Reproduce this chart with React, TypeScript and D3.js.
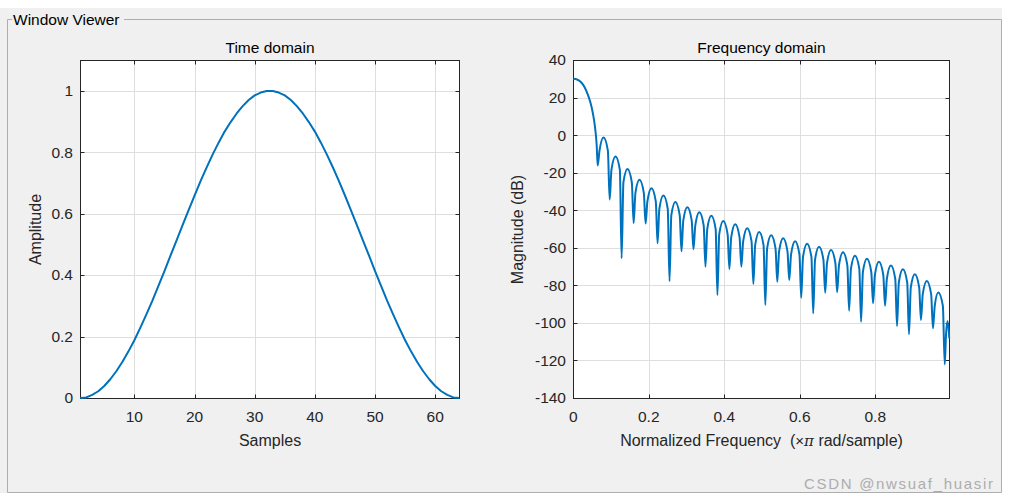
import React from 'react';
import * as d3 from 'd3';

// ---- Data ----
const timeValues: number[] = [
  0, 0.002, 0.010, 0.022, 0.039, 0.061, 0.087, 0.117, 0.151, 0.188, 0.229, 0.272, 0.317, 0.365, 0.413, 0.463,
  0.512, 0.562, 0.611, 0.659, 0.706, 0.750, 0.792, 0.831, 0.867, 0.898, 0.926, 0.950, 0.970, 0.985, 0.994, 0.999,
  0.999, 0.994, 0.985, 0.970, 0.950, 0.926, 0.898, 0.867, 0.831, 0.792, 0.750, 0.706, 0.659, 0.611, 0.562, 0.512,
  0.463, 0.413, 0.365, 0.317, 0.272, 0.229, 0.188, 0.151, 0.117, 0.087, 0.061, 0.039, 0.022, 0.010, 0.002, 0,
];

const freqResponse: [number, number][] = [
  [0.0000, 30.0], [0.0100, 29.6], [0.0200, 28.3], [0.0300, 25.5], [0.0380, 21.8], [0.0450, 17.6],
  [0.0520, 11.5], [0.0580, 3.5], [0.0620, -5.5],
  [0.0646, -16.2], [0.0694, -8.3], [0.0801, -1.3], [0.0916, -8.3],
  [0.0963, -34.3], [0.1011, -18.4], [0.1118, -11.4], [0.1233, -18.4],
  [0.1280, -65.6], [0.1328, -25.1], [0.1435, -18.1], [0.1550, -25.1],
  [0.1598, -46.9], [0.1646, -30.8], [0.1753, -23.8], [0.1868, -30.8],
  [0.1915, -47.1], [0.1963, -35.3], [0.2070, -28.3], [0.2185, -35.3],
  [0.2232, -57.6], [0.2280, -39.2], [0.2387, -32.2], [0.2502, -39.2],
  [0.2549, -77.8], [0.2597, -42.6], [0.2704, -35.6], [0.2819, -42.6],
  [0.2866, -61.9], [0.2914, -45.4], [0.3021, -38.4], [0.3136, -45.4],
  [0.3184, -60.8], [0.3232, -48.1], [0.3339, -41.1], [0.3454, -48.1],
  [0.3501, -70.1], [0.3549, -50.0], [0.3656, -43.0], [0.3771, -50.0],
  [0.3818, -85.2], [0.3866, -52.7], [0.3973, -45.7], [0.4088, -52.7],
  [0.4135, -71.3], [0.4183, -54.5], [0.4290, -47.5], [0.4405, -54.5],
  [0.4452, -70.1], [0.4500, -56.6], [0.4607, -49.6], [0.4722, -56.6],
  [0.4770, -79.3], [0.4818, -58.6], [0.4925, -51.6], [0.5040, -58.6],
  [0.5087, -90.5], [0.5135, -60.3], [0.5242, -53.3], [0.5357, -60.3],
  [0.5404, -78.1], [0.5452, -61.9], [0.5559, -54.9], [0.5674, -61.9],
  [0.5721, -77.2], [0.5769, -63.5], [0.5876, -56.5], [0.5991, -63.5],
  [0.6038, -86.6], [0.6086, -64.8], [0.6193, -57.8], [0.6308, -64.8],
  [0.6356, -94.9], [0.6404, -66.4], [0.6511, -59.4], [0.6626, -66.4],
  [0.6673, -83.9], [0.6721, -68.2], [0.6828, -61.2], [0.6943, -68.2],
  [0.6990, -83.7], [0.7038, -69.4], [0.7145, -62.4], [0.7260, -69.4],
  [0.7307, -93.5], [0.7355, -71.2], [0.7462, -64.2], [0.7577, -71.2],
  [0.7624, -99.4], [0.7672, -72.9], [0.7779, -65.9], [0.7894, -72.9],
  [0.7942, -89.6], [0.7990, -74.5], [0.8097, -67.5], [0.8212, -74.5],
  [0.8259, -90.9], [0.8307, -76.5], [0.8414, -69.5], [0.8529, -76.5],
  [0.8576, -101.7], [0.8624, -78.5], [0.8731, -71.5], [0.8846, -78.5],
  [0.8893, -106.1], [0.8941, -81.1], [0.9048, -74.1], [0.9163, -81.1],
  [0.9210, -98.5], [0.9258, -84.7], [0.9365, -77.7], [0.9480, -84.7],
  [0.9528, -102.9], [0.9576, -90.8], [0.9668, -83.8], [0.9790, -90.8],
  [0.9840, -122.1], [0.9875, -106.0], [0.9915, -99.0], [0.9961, -108.3],
];

const timeXTicks = [10, 20, 30, 40, 50, 60];
const timeYTicks = [0, 0.2, 0.4, 0.6, 0.8, 1];
const freqXTicks = [0, 0.2, 0.4, 0.6, 0.8];
const freqYTicks = [-140, -120, -100, -80, -60, -40, -20, 0, 20, 40];

const FONT = '"Liberation Sans", Arial, Helvetica, sans-serif';
const LINE = '#0072BD';
const AX = '#262626';
const GRID = '#dedede';

const tX = d3.scaleLinear().domain([1, 64]).range([80.2, 459.3]);
const tY = d3.scaleLinear().domain([0, 1.1]).range([398, 60]);
const fX = d3.scaleLinear().domain([0, 0.9961]).range([573.3, 949.3]);
const fY = d3.scaleLinear().domain([-140, 40]).range([398, 60]);

const fmt = (v: number) => String(+v.toFixed(2));
const px = (v: number) => Math.round(v) + 0.5;

function Axes(props: {
  xs: d3.ScaleLinear<number, number>;
  ys: d3.ScaleLinear<number, number>;
  xTicks: number[];
  yTicks: number[];
  title: string;
  xLabel: React.ReactNode;
  yLabel: string;
  yLabelX: number;
  path: string;
  clipId: string;
}) {
  const { xs, ys, xTicks, yTicks, title, xLabel, yLabel, yLabelX, path, clipId } = props;
  const [x0, x1] = xs.range();
  const [y1, y0] = ys.range();
  const L = px(x0), R = px(x1), T = px(y0), B = px(y1);
  const tl = 4;
  return (
    <g>
      <rect x={L} y={T} width={R - L} height={B - T} fill="#ffffff" />
      {xTicks.map((t) => (
        <line key={'gx' + t} x1={px(xs(t))} x2={px(xs(t))} y1={T} y2={B} stroke={GRID} strokeWidth={1} />
      ))}
      {yTicks.map((t) => (
        <line key={'gy' + t} x1={L} x2={R} y1={px(ys(t))} y2={px(ys(t))} stroke={GRID} strokeWidth={1} />
      ))}
      <rect x={L} y={T} width={R - L} height={B - T} fill="none" stroke={AX} strokeWidth={1} />
      {xTicks.map((t) => (
        <g key={'tx' + t}>
          <line x1={px(xs(t))} x2={px(xs(t))} y1={B} y2={B - tl} stroke={AX} />
          <line x1={px(xs(t))} x2={px(xs(t))} y1={T} y2={T + tl} stroke={AX} />
          <text x={xs(t)} y={422} textAnchor="middle" fontSize={15.5} fill={AX} fontFamily={FONT}>
            {fmt(t)}
          </text>
        </g>
      ))}
      {yTicks.map((t) => (
        <g key={'ty' + t}>
          <line x1={L} x2={L + tl} y1={px(ys(t))} y2={px(ys(t))} stroke={AX} />
          <line x1={R} x2={R - tl} y1={px(ys(t))} y2={px(ys(t))} stroke={AX} />
          <text x={L - 7.5} y={ys(t) + 5.4} textAnchor="end" fontSize={15.5} fill={AX} fontFamily={FONT}>
            {fmt(t)}
          </text>
        </g>
      ))}
      <clipPath id={clipId}>
        <rect x={L - 1} y={T - 1} width={R - L + 2} height={B - T + 2} />
      </clipPath>
      <path d={path} fill="none" stroke={LINE} strokeWidth={2} strokeLinejoin="round" clipPath={`url(#${clipId})`} />
      <text x={(L + R) / 2} y={53} textAnchor="middle" fontSize={15.5} fill="#000" fontFamily={FONT}>
        {title}
      </text>
      <text x={(L + R) / 2} y={446} textAnchor="middle" fontSize={16} fill={AX} fontFamily={FONT} style={{ whiteSpace: 'pre' }}>
        {xLabel}
      </text>
      <text
        transform={`translate(${yLabelX},${(T + B) / 2}) rotate(-90)`}
        textAnchor="middle"
        fontSize={16}
        fill={AX}
        fontFamily={FONT}
      >
        {yLabel}
      </text>
    </g>
  );
}

export default function App() {
  const timePath =
    d3
      .line<number>()
      .x((_, i) => tX(i + 1))
      .y((d) => tY(d))(timeValues) || '';
  const freqPath =
    d3
      .line<[number, number]>()
      .x((d) => fX(d[0]))
      .y((d) => fY(d[1]))
      .curve(d3.curveMonotoneX)(freqResponse) || '';

  return (
    <svg
      width={1011}
      height={502}
      style={{ position: 'absolute', left: 0, top: 0, background: '#ffffff' }}
      fontFamily={FONT}
    >
      <rect x={0} y={8} width={1002} height={485} fill="#f0f0f0" />
      <path d="M12,19.5 H7.5 V492.5 H1001.5 V19.5 H124" fill="none" stroke="#aeaeae" strokeWidth={1} />
      <text x={13} y={25} fontSize={15.5} fill="#000" fontFamily={FONT}>
        Window Viewer
      </text>
      <Axes
        xs={tX}
        ys={tY}
        xTicks={timeXTicks}
        yTicks={timeYTicks}
        title="Time domain"
        xLabel="Samples"
        yLabel="Amplitude"
        yLabelX={40.5}
        path={timePath}
        clipId="clipTime"
      />
      <Axes
        xs={fX}
        ys={fY}
        xTicks={freqXTicks}
        yTicks={freqYTicks}
        title="Frequency domain"
        xLabel={
          <>
            {'Normalized Frequency\u00a0\u00a0('}
            <tspan fontSize={15}>×</tspan>
            <tspan fontStyle="italic" fontFamily='"DejaVu Serif", serif' fontSize={15}>π</tspan>
            {' rad/sample)'}
          </>
        }
        yLabel="Magnitude (dB)"
        yLabelX={523}
        path={freqPath}
        clipId="clipFreq"
      />
      <text x={993} y={489} textAnchor="end" fontSize={15} fill="#adadad" fontFamily={FONT} textLength={189} lengthAdjust="spacing">
        CSDN @nwsuaf_huasir
      </text>
    </svg>
  );
}
